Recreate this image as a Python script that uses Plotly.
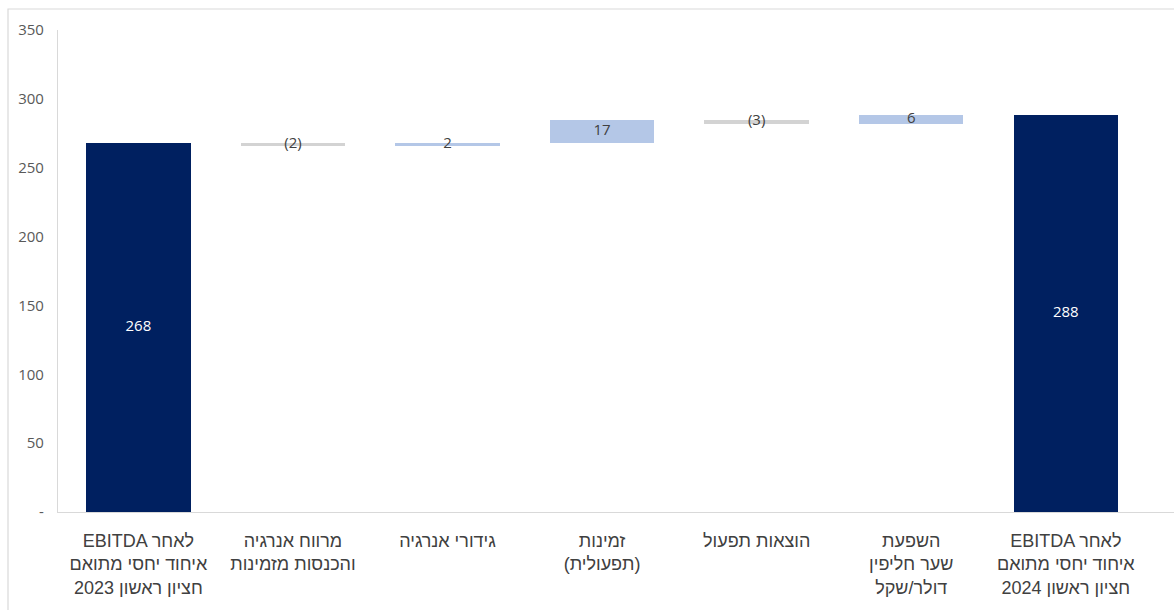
import plotly.graph_objects as go

# Waterfall steps: opening total, movements, closing total
categories = [
    "EBITDA לאחר<br>איחוד יחסי מתואם<br>חציון ראשון 2023",
    "מרווח אנרגיה<br>והכנסות מזמינות",
    "גידורי אנרגיה",
    "זמינות<br>(תפעולית)",
    "הוצאות תפעול",
    "השפעת<br>שער חליפין<br>דולר/שקל",
    "EBITDA לאחר<br>איחוד יחסי מתואם<br>חציון ראשון 2024",
]
values = [268, -2, 2, 17, -3, 6, 288]
kinds = ["total", "delta", "delta", "delta", "delta", "delta", "total"]

y_ticks = [0, 50, 100, 150, 200, 250, 300, 350]
y_tick_labels = ["-", "50", "100", "150", "200", "250", "300", "350"]

NAVY = "#002060"
UP = "#B4C7E7"
DOWN = "#D3D3D3"
FONT = "Open Sans, Liberation Sans, DejaVu Sans, sans-serif"

bases, heights, colors, mids, labels, label_colors = [], [], [], [], [], []
running = 0
for v, k in zip(values, kinds):
    if k == "total":
        base = 0
        running = v
        colors.append(NAVY)
        label_colors.append("white")
        labels.append(f"{v}")
    else:
        base = running
        running += v
        colors.append(UP if v >= 0 else DOWN)
        label_colors.append("#404040")
        labels.append(f"({abs(v)})" if v < 0 else f"{v}")
    bases.append(base)
    heights.append(v)
    mids.append(base + v / 2)

x_pos = list(range(len(categories)))

fig = go.Figure()
fig.add_trace(go.Bar(
    x=x_pos, y=heights, base=bases,
    marker=dict(color=colors, line=dict(width=0)),
    width=0.675, hoverinfo="skip", showlegend=False,
))
fig.add_trace(go.Scatter(
    x=x_pos, y=mids, mode="text", text=labels,
    textfont=dict(family=FONT, size=15, color=label_colors),
    textposition="middle center", hoverinfo="skip", showlegend=False, cliponaxis=False,
))

# outer frame of the chart area
fig.add_shape(type="rect", xref="paper", yref="paper",
              x0=-0.0448, x1=1.02, y0=-0.25, y1=1.0436,
              line=dict(color="#D9D9D9", width=1.2), fillcolor="rgba(0,0,0,0)", layer="below")

fig.update_layout(
    width=1174, height=610,
    margin=dict(l=58, r=0, t=30, b=98),
    paper_bgcolor="white", plot_bgcolor="white",
    font=dict(family=FONT, color="#404040"),
    bargap=0,
    xaxis=dict(
        range=[-0.52, 6.70],
        tickmode="array", tickvals=x_pos, ticktext=categories,
        tickfont=dict(family="Liberation Sans, Arial, sans-serif", size=18, color="#404040"),
        showgrid=False, zeroline=False,
        showline=True, linecolor="#D9D9D9", linewidth=1.2,
        ticks="", ticklabelstandoff=12,
    ),
    yaxis=dict(
        range=[0, 350],
        tickmode="array", tickvals=y_ticks, ticktext=y_tick_labels,
        tickfont=dict(size=15, color="#595959"),
        showgrid=False, zeroline=False,
        showline=True, linecolor="#D9D9D9", linewidth=1.2,
        ticks="", ticklabelstandoff=10,
    ),
)

fig.write_html("out.html")
